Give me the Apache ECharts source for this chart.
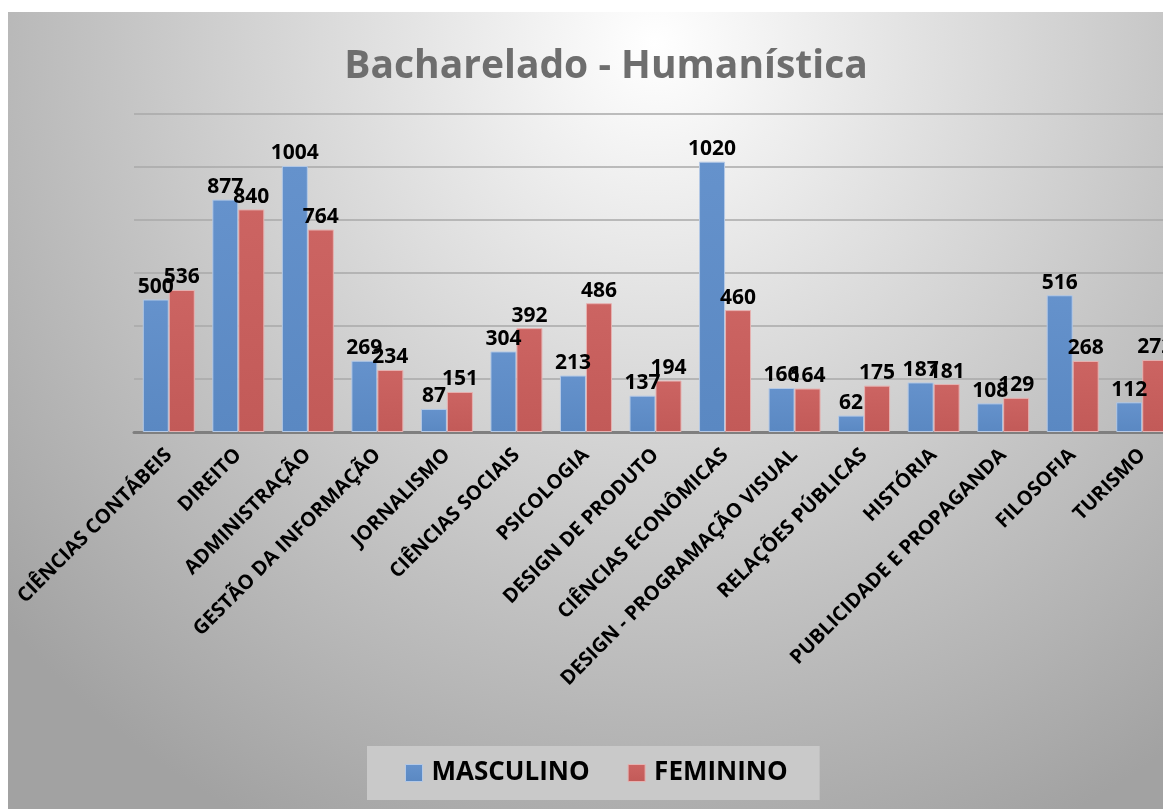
<!DOCTYPE html>
<html>
<head>
<meta charset="utf-8">
<script src="https://cdn.jsdelivr.net/npm/echarts@6/dist/echarts.min.js"></script>
<style>
  html, body { margin: 0; padding: 0; background: #ffffff; overflow: hidden; }
  #bg { position: absolute; left: 8px; top: 12px; width: 1155px; height: 797px;
        background: radial-gradient(ellipse 75% 110% at 56% 4%, #ffffff 0%, #e2e2e2 30%, #c4c4c4 62%, #a2a2a2 100%); }
  #chart { position: absolute; left: 0; top: 0; width: 1163px; height: 809px; }
</style>
</head>
<body>
<div id="bg"></div>
<div id="chart"></div>
<script>
const categories = [
  'CIÊNCIAS CONTÁBEIS', 'DIREITO', 'ADMINISTRAÇÃO', 'GESTÃO DA INFORMAÇÃO', 'JORNALISMO',
  'CIÊNCIAS SOCIAIS', 'PSICOLOGIA', 'DESIGN DE PRODUTO', 'CIÊNCIAS ECONÔMICAS',
  'DESIGN - PROGRAMAÇÃO VISUAL', 'RELAÇÕES PÚBLICAS', 'HISTÓRIA', 'PUBLICIDADE E PROPAGANDA',
  'FILOSOFIA', 'TURISMO'
];
const masculino = [500, 877, 1004, 269, 87, 304, 213, 137, 1020, 166, 62, 187, 108, 516, 112];
const feminino  = [536, 840, 764, 234, 151, 392, 486, 194, 460, 164, 175, 181, 129, 268, 272];
const seriesNames = ['MASCULINO', 'FEMININO'];

const chart = echarts.init(document.getElementById('chart'), null, { renderer: 'canvas' });

const labelStyle = {
  show: true, position: 'top', distance: 2,
  fontFamily: 'Open Sans', fontWeight: 'bold', fontSize: 21, color: '#000'
};

chart.setOption({
  backgroundColor: 'transparent',
  animation: false,
  title: {
    text: 'Bacharelado - Humanística',
    left: 601, top: 42, textAlign: 'center',
    textStyle: { fontFamily: 'Open Sans', fontWeight: 'bold', fontSize: 39, color: '#6e6e6e' }
  },
  legend: {
    data: seriesNames,
    left: 367, top: 746,
    padding: [14, 32, 14, 38],
    itemGap: 38,
    itemWidth: 17, itemHeight: 17,
    itemStyle: { borderWidth: 1 },
    backgroundColor: '#c9c9c9',
    textStyle: { fontFamily: 'Open Sans', fontWeight: 'bold', fontSize: 26, color: '#000', padding: [0, 0, 0, 4] },
    icon: 'rect'
  },
  grid: { left: 134, width: 1043, top: 114, bottom: 377, containLabel: false, outerBoundsMode: 'none' },
  xAxis: {
    type: 'category',
    data: categories,
    axisLine: { show: true, lineStyle: { color: '#7f7f7f', width: 3 } },
    axisTick: { show: false },
    axisLabel: {
      rotate: 45, interval: 0, margin: 20,
      fontFamily: 'Open Sans', fontWeight: 'bold', fontSize: 20, color: '#000'
    }
  },
  yAxis: {
    type: 'value', min: 0, max: 1200, interval: 200,
    axisLabel: { show: false },
    axisLine: { show: false }, axisTick: { show: false },
    splitLine: { lineStyle: { color: '#a8a8a8', width: 1.5 } }
  },
  series: [
    {
      name: seriesNames[0], type: 'bar', data: masculino,
      barWidth: 26, barGap: '0%',
      itemStyle: {
        color: new echarts.graphic.LinearGradient(0, 0, 0, 1, [
          { offset: 0, color: '#6592cc' }, { offset: 1, color: '#5a88c2' }
        ]),
        borderColor: '#b4c9e6', borderWidth: 1
      },
      label: labelStyle
    },
    {
      name: seriesNames[1], type: 'bar', data: feminino,
      barWidth: 26,
      itemStyle: {
        color: new echarts.graphic.LinearGradient(0, 0, 0, 1, [
          { offset: 0, color: '#cc6462' }, { offset: 1, color: '#c25a58' }
        ]),
        borderColor: '#e6b2b1', borderWidth: 1
      },
      label: labelStyle
    }
  ]
});
</script>
</body>
</html>
